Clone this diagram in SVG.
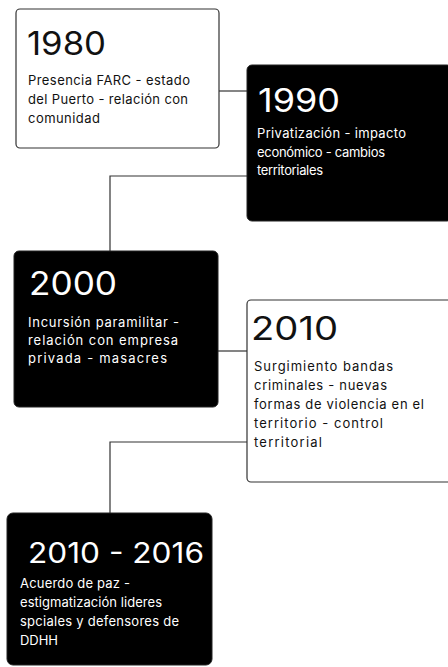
<svg xmlns="http://www.w3.org/2000/svg" width="448" height="667" viewBox="0 0 448 667">
<style>
.w{fill:#fff;stroke:#333;stroke-width:1.2}
.b{fill:#000;stroke:#222;stroke-width:1}
.yr{font-family:Inter,"Liberation Sans",sans-serif;font-size:32px;font-weight:400}
.tx{font-family:Inter,"Liberation Sans",sans-serif;font-size:13px}
.dk{fill:#111}
.lt{fill:#fff}
.c{fill:none;stroke:#333;stroke-width:1.2}
</style>
<rect width="448" height="667" fill="#fff"/>
<g id="connectors">
<path class="c" d="M219 91 H247"/>
<path class="c" d="M247 176 H110 V251"/>
<path class="c" d="M218 351 H247"/>
<path class="c" d="M247 442 H110 V513"/>
</g>
<g id="n1980">
<rect class="w" x="16" y="9" width="203" height="139" rx="4"/>
<text class="yr dk" x="27" y="55" textLength="79" lengthAdjust="spacingAndGlyphs">1980</text>
<text class="tx dk"><tspan x="28" y="85" textLength="162">Presencia FARC - estado</tspan><tspan x="28" y="104" textLength="160">del Puerto - relación con</tspan><tspan x="28" y="123" textLength="72">comunidad</tspan></text>
</g>
<g id="n1990">
<rect class="b" x="247" y="65" width="205" height="156" rx="5"/>
<text class="yr lt" x="258" y="112" textLength="82" lengthAdjust="spacingAndGlyphs">1990</text>
<text class="tx lt"><tspan x="257" y="138" textLength="149">Privatización - impacto</tspan><tspan x="257" y="157" textLength="128">económico - cambios</tspan><tspan x="257" y="175" textLength="66">territoriales</tspan></text>
</g>
<g id="n2000">
<rect class="b" x="14" y="251" width="204" height="156" rx="5"/>
<text class="yr lt" x="29" y="295" textLength="88" lengthAdjust="spacingAndGlyphs">2000</text>
<text class="tx lt"><tspan x="28" y="327" textLength="151">Incursión paramilitar -</tspan><tspan x="28" y="345" textLength="150">relación con empresa</tspan><tspan x="28" y="363" textLength="139">privada - masacres</tspan></text>
</g>
<g id="n2010">
<rect class="w" x="247" y="300" width="205" height="182" rx="4"/>
<text class="yr dk" x="251" y="340" textLength="87" lengthAdjust="spacingAndGlyphs">2010</text>
<text class="tx dk"><tspan x="254" y="371" textLength="139">Surgimiento bandas</tspan><tspan x="254" y="390" textLength="133">criminales - nuevas</tspan><tspan x="254" y="409" textLength="170">formas de violencia en el</tspan><tspan x="254" y="428" textLength="129">territorio - control</tspan><tspan x="254" y="447" textLength="68">territorial</tspan></text>
</g>
<g id="n2016">
<rect class="b" x="7" y="513" width="205" height="152" rx="6"/>
<text class="yr lt" x="28" y="563" style="font-size:28px" textLength="176" lengthAdjust="spacingAndGlyphs">2010 - 2016</text>
<text class="tx lt"><tspan x="20" y="588" textLength="110">Acuerdo de paz -</tspan><tspan x="20" y="607" textLength="142">estigmatización lideres</tspan><tspan x="20" y="626" textLength="159">spciales y defensores de</tspan><tspan x="20" y="645" textLength="38">DDHH</tspan></text>
</g>
</svg>
